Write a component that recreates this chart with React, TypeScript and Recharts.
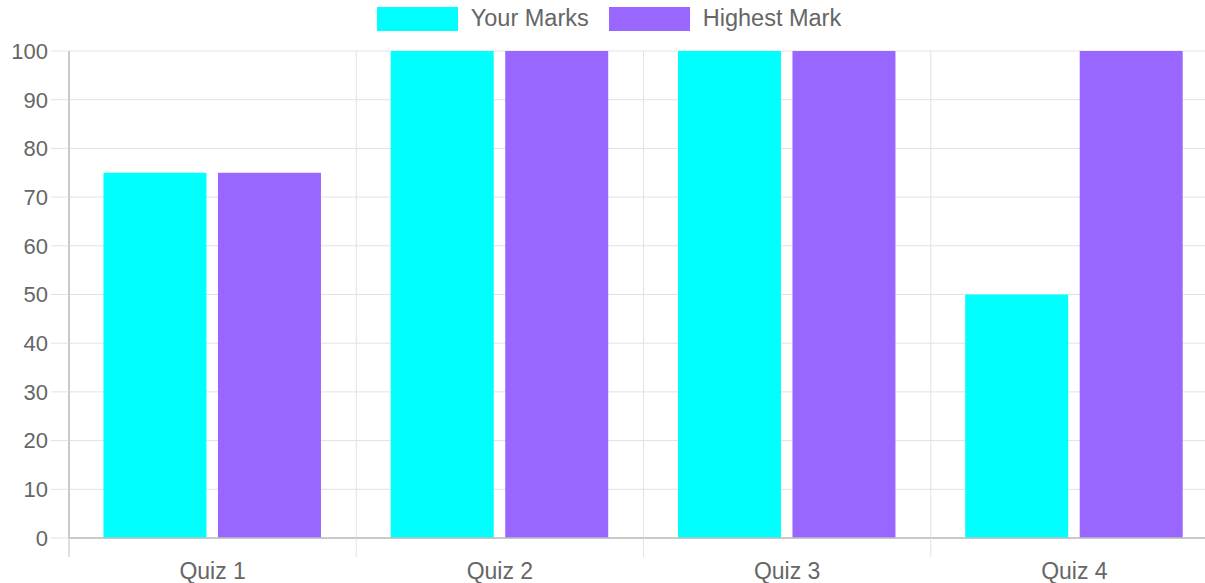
import { BarChart, Bar, XAxis, YAxis, CartesianGrid, Legend } from 'recharts';

const quizzes = ['Quiz 1', 'Quiz 2', 'Quiz 3', 'Quiz 4'];
const yourMarks = [75, 100, 100, 50];
const highestMarks = [75, 100, 100, 100];
const yTicks = [0, 10, 20, 30, 40, 50, 60, 70, 80, 90, 100];

const seriesInfo = [
  { key: 'yours', label: 'Your Marks', color: '#00ffff' },
  { key: 'highest', label: 'Highest Mark', color: '#9966ff' },
];

const FONT = 'Arial, "Liberation Sans", Helvetica, sans-serif';
const TEXT = '#666666';
const GRID = '#e2e2e2';
const AXIS = '#bdbdbd';

const data = quizzes.map((name, i) => ({
  name,
  yours: yourMarks[i],
  highest: highestMarks[i],
}));

function LegendRow() {
  return (
    <div
      style={{
        display: 'flex',
        justifyContent: 'center',
        alignItems: 'center',
        height: 37,
        fontFamily: FONT,
        fontSize: 23.5,
        color: TEXT,
      }}
    >
      {seriesInfo.map((s) => (
        <div key={s.key} style={{ display: 'flex', alignItems: 'center', margin: '0 10px' }}>
          <span style={{ display: 'inline-block', width: 81, height: 24, background: s.color, marginRight: 13 }} />
          {s.label}
        </div>
      ))}
    </div>
  );
}

function QuizTick(props: any) {
  const { x, y, payload, index } = props;
  const half = payload && typeof payload.offset === 'number' ? payload.offset : null;
  const left = half !== null ? x - half : null;
  return (
    <g>
      {left !== null && (
        <line x1={left} x2={left} y1={y} y2={y + 19} stroke={index === 0 ? AXIS : GRID} />
      )}
      <text x={x} y={y + 41} textAnchor="middle" fill={TEXT} fontSize={23} fontFamily={FONT}>
        {payload.value}
      </text>
    </g>
  );
}

export default function App() {
  return (
    <div style={{ position: 'absolute', left: 0, top: 0, width: 1205, height: 583, overflow: 'hidden', background: '#fff' }}>
      <BarChart
        width={1218}
        height={583}
        data={data}
        margin={{ top: 14, right: 0, bottom: 0, left: 0 }}
        barCategoryGap="12%"
        barGap="4%"
      >
        <Legend verticalAlign="top" wrapperStyle={{ top: 0 }} content={() => <LegendRow />} />
        <CartesianGrid
          stroke={GRID}
          verticalCoordinatesGenerator={({ offset }: any) =>
            [...quizzes, ''].map((_, i) => offset.left + (i * offset.width) / quizzes.length)
          }
        />
        <XAxis
          dataKey="name"
          height={45}
          tickLine={false}
          tickSize={0}
          tickMargin={0}
          axisLine={{ stroke: AXIS, strokeWidth: 1.5 }}
          tick={<QuizTick />}
          interval={0}
        />
        <YAxis
          width={69}
          domain={[0, 100]}
          ticks={yTicks}
          interval={0}
          tickSize={18}
          tickMargin={3}
          tickLine={{ stroke: GRID }}
          axisLine={{ stroke: AXIS, strokeWidth: 1.5 }}
          tick={{ fill: TEXT, fontSize: 22, fontFamily: FONT }}
        />
        {seriesInfo.map((s) => (
          <Bar key={s.key} dataKey={s.key} name={s.label} fill={s.color} isAnimationActive={false} />
        ))}
      </BarChart>
    </div>
  );
}
